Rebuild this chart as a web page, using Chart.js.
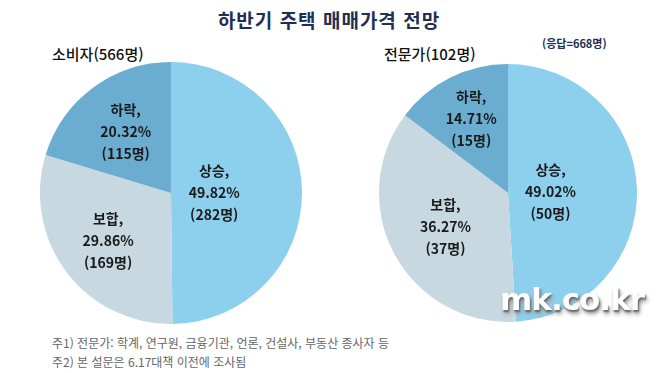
<!DOCTYPE html>
<html lang="ko">
<head>
    <meta charset="UTF-8">
    <title>하반기 주택 매매가격 전망</title>
    <script src="https://cdn.jsdelivr.net/npm/chart.js"></script>
    <style>
        body {
            margin: 0;
            width: 658px;
            height: 373px;
            background: #ffffff;
            font-family: "Noto Sans CJK KR", "Noto Sans", sans-serif;
            position: relative;
            overflow: hidden;
        }

        .main-title {
            position: absolute;
            left: 0;
            width: 658px;
            top: 6px;
            text-align: center;
            font-size: 19px;
            font-weight: 700;
            color: #1f2f55;
            letter-spacing: 1px;
        }

        .sub-title {
            position: absolute;
            top: 43px;
            font-size: 15px;
            font-weight: 500;
            color: #111;
        }

        .note-total {
            position: absolute;
            left: 542px;
            top: 35px;
            font-size: 11px;
            font-weight: 700;
            color: #1f2f55;
        }

        .pie-box {
            position: absolute;
        }

        .watermark {
            position: absolute;
            left: 500px;
            top: 281px;
            font-family: "DejaVu Sans", sans-serif;
            font-size: 31px;
            font-weight: 700;
            color: #ffffff;
            letter-spacing: -1px;
            text-shadow: 1px 2px 2px #666, 2px 4px 4px #999;
        }

        .footnotes {
            position: absolute;
            left: 52px;
            top: 333px;
            font-size: 12px;
            line-height: 19px;
            color: #666;
        }
    </style>
</head>
<body>
    <div class="main-title">하반기 주택 매매가격 전망</div>
    <div class="sub-title" style="left: 52px;">소비자(566명)</div>
    <div class="sub-title" style="left: 384px;">전문가(102명)</div>
    <div class="note-total">(응답=668명)</div>

    <div class="pie-box" style="left: 40px; top: 62px; width: 262px; height: 262px;">
        <canvas id="consumerChart"></canvas>
    </div>
    <div class="pie-box" style="left: 379px; top: 64px; width: 258px; height: 258px;">
        <canvas id="expertChart"></canvas>
    </div>

    <div class="watermark">mk.co.kr</div>

    <div class="footnotes">
        주1) 전문가: 학계, 연구원, 금융기관, 언론, 건설사, 부동산 종사자 등<br>
        주2) 본 설문은 6.17대책 이전에 조사됨
    </div>

    <script>
        const categories = ['상승', '보합', '하락'];
        const consumerPct = [49.82, 29.86, 20.32];
        const consumerCount = [282, 169, 115];
        const expertPct = [49.02, 36.27, 14.71];
        const expertCount = [50, 37, 15];

        const sliceColors = ['#8dd0ee', '#c8d8e1', '#6aadd1'];

        // 조각 안쪽에 "항목, 비율, (인원)" 3줄 라벨
        const sliceLabels = {
            id: 'sliceLabels',
            afterDatasetsDraw(chart, args, opts) {
                const ctx = chart.ctx;
                const meta = chart.getDatasetMeta(0);
                ctx.save();
                ctx.fillStyle = '#1a1a1a';
                ctx.textAlign = 'center';
                ctx.textBaseline = 'middle';
                ctx.font = 'bold 14px "Noto Sans CJK KR", sans-serif';
                meta.data.forEach((arc, i) => {
                    const mid = (arc.startAngle + arc.endAngle) / 2;
                    const r = arc.outerRadius * opts.dist[i];
                    const x = arc.x + Math.cos(mid) * r;
                    const y = arc.y + Math.sin(mid) * r;
                    const lines = [
                        categories[i] + ',',
                        opts.pct[i].toFixed(2) + '%',
                        '(' + opts.count[i] + '명)'
                    ];
                    lines.forEach((t, k) => {
                        ctx.fillText(t, x, y + (k - 1) * 22);
                    });
                });
                ctx.restore();
            }
        };

        function makePie(id, pct, count, dist) {
            return new Chart(document.getElementById(id), {
                type: 'pie',
                data: {
                    labels: categories,
                    datasets: [{
                        data: pct,
                        backgroundColor: sliceColors,
                        borderWidth: 0
                    }]
                },
                options: {
                    responsive: true,
                    maintainAspectRatio: false,
                    animation: false,
                    layout: { padding: 0 },
                    plugins: {
                        legend: { display: false },
                        tooltip: { enabled: false },
                        sliceLabels: { pct: pct, count: count, dist: dist }
                    }
                },
                plugins: [sliceLabels]
            });
        }

        makePie('consumerChart', consumerPct, consumerCount, [0.33, 0.6, 0.58]);
        makePie('expertChart', expertPct, expertCount, [0.33, 0.55, 0.64]);
    </script>
</body>
</html>
